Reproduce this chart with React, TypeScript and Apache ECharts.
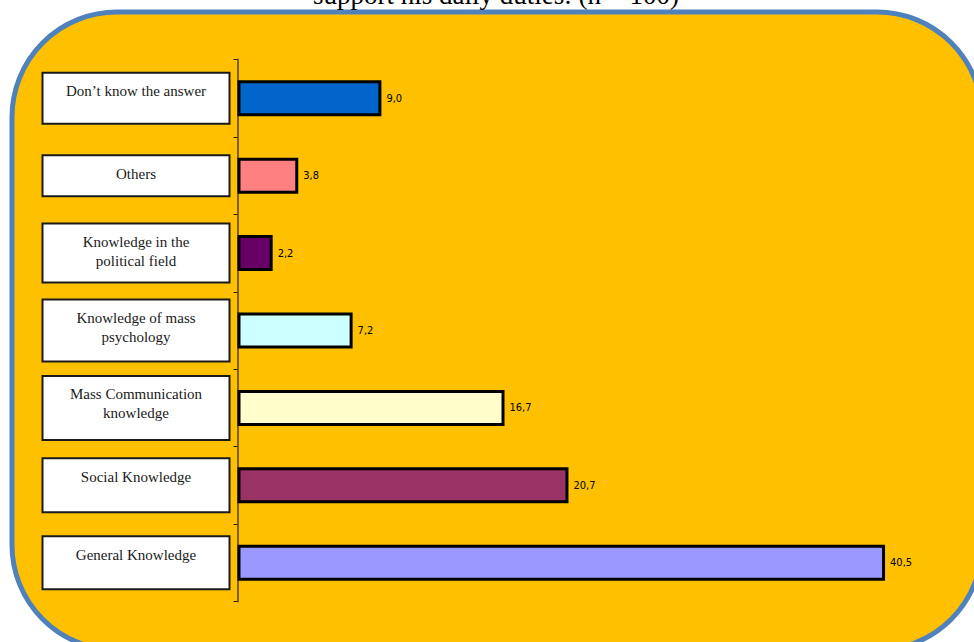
import React, { useEffect, useRef } from "react";
import * as echarts from "echarts";

const categories: string[] = [
  "Don’t know the answer",
  "Others",
  "Knowledge in the\npolitical field",
  "Knowledge of mass\npsychology",
  "Mass Communication\nknowledge",
  "Social Knowledge",
  "General Knowledge",
];
const values: number[] = [9.0, 3.8, 2.2, 7.2, 16.7, 20.7, 40.5];
const barColors: string[] = ["#0066CC", "#FF8080", "#660066", "#CCFFFF", "#FFFFCC", "#993366", "#9999FF"];
const labelPadBottom: number[] = [22, 12, 11, 14, 16, 25, 24];
const titleText = "support his daily duties: (n = 100)";

export default function App() {
  const ref = useRef<HTMLDivElement>(null);
  useEffect(() => {
    if (!ref.current) return;
    const chart = echarts.init(ref.current, null, { renderer: "svg" });
    const yData = categories.map((c, i) => ({
      value: c,
      textStyle: {
        padding: [8, 0, labelPadBottom[i], 0],
      },
    }));
    chart.setOption({
      animation: false,
      backgroundColor: "#FFFFFF",
      graphic: [
        {
          type: "rect",
          z: -10,
          silent: true,
          shape: { x: 12, y: 12, width: 970, height: 638, r: 105 },
          style: { fill: "#FFC000", stroke: "#4F81BD", lineWidth: 5 },
        },
        {
          type: "text",
          z: -5,
          silent: true,
          x: 496,
          y: -5,
          style: {
            text: titleText,
            fontFamily: "'Liberation Serif', 'Times New Roman', serif",
            fontSize: 27,
            fill: "#000000",
            align: "center",
            verticalAlign: "middle",
          },
        },
      ],
      grid: { left: 237.5, right: 17, top: 59.5, bottom: 40.5, containLabel: false },
      xAxis: {
        type: "value",
        min: 0,
        max: 45,
        show: false,
        splitLine: { show: false },
      },
      yAxis: {
        type: "category",
        inverse: true,
        data: yData,
        axisLine: { show: true, lineStyle: { color: "#7F6000", width: 2 } },
        axisTick: { show: true, length: 4, lineStyle: { color: "#222222", width: 1 } },
        axisLabel: {
          interval: 0,
          margin: 9,
          formatter: (v: string) =>
            v
              .split("\n")
              .map((l) => `{c|${l}}`)
              .join("\n"),
          backgroundColor: "#FFFFFF",
          borderColor: "#1A1A1A",
          borderWidth: 2,
          width: 185,
          rich: {
            c: {
              align: "center",
              fontFamily: "'Liberation Serif', 'Times New Roman', serif",
              fontSize: 15,
              lineHeight: 19,
              color: "#1A1A1A",
            },
          },
        },
      },
      series: [
        {
          type: "bar",
          barWidth: 36,
          data: values.map((v, i) => ({
            value: v,
            itemStyle: { color: barColors[i], borderColor: "#000000", borderWidth: 3 },
          })),
          label: {
            show: true,
            position: "right",
            distance: 5,
            formatter: (p: any) => Number(p.value).toFixed(1).replace(".", ","),
            fontFamily: "'DejaVu Sans Condensed', 'Liberation Sans Narrow', 'Arial Narrow', sans-serif",
            fontSize: 11,
            color: "#000000",
          },
        },
      ],
    });
    return () => chart.dispose();
  }, []);
  return (
    <div
      ref={ref}
      style={{ position: "fixed", left: 0, top: 0, width: 974, height: 642 }}
    />
  );
}
